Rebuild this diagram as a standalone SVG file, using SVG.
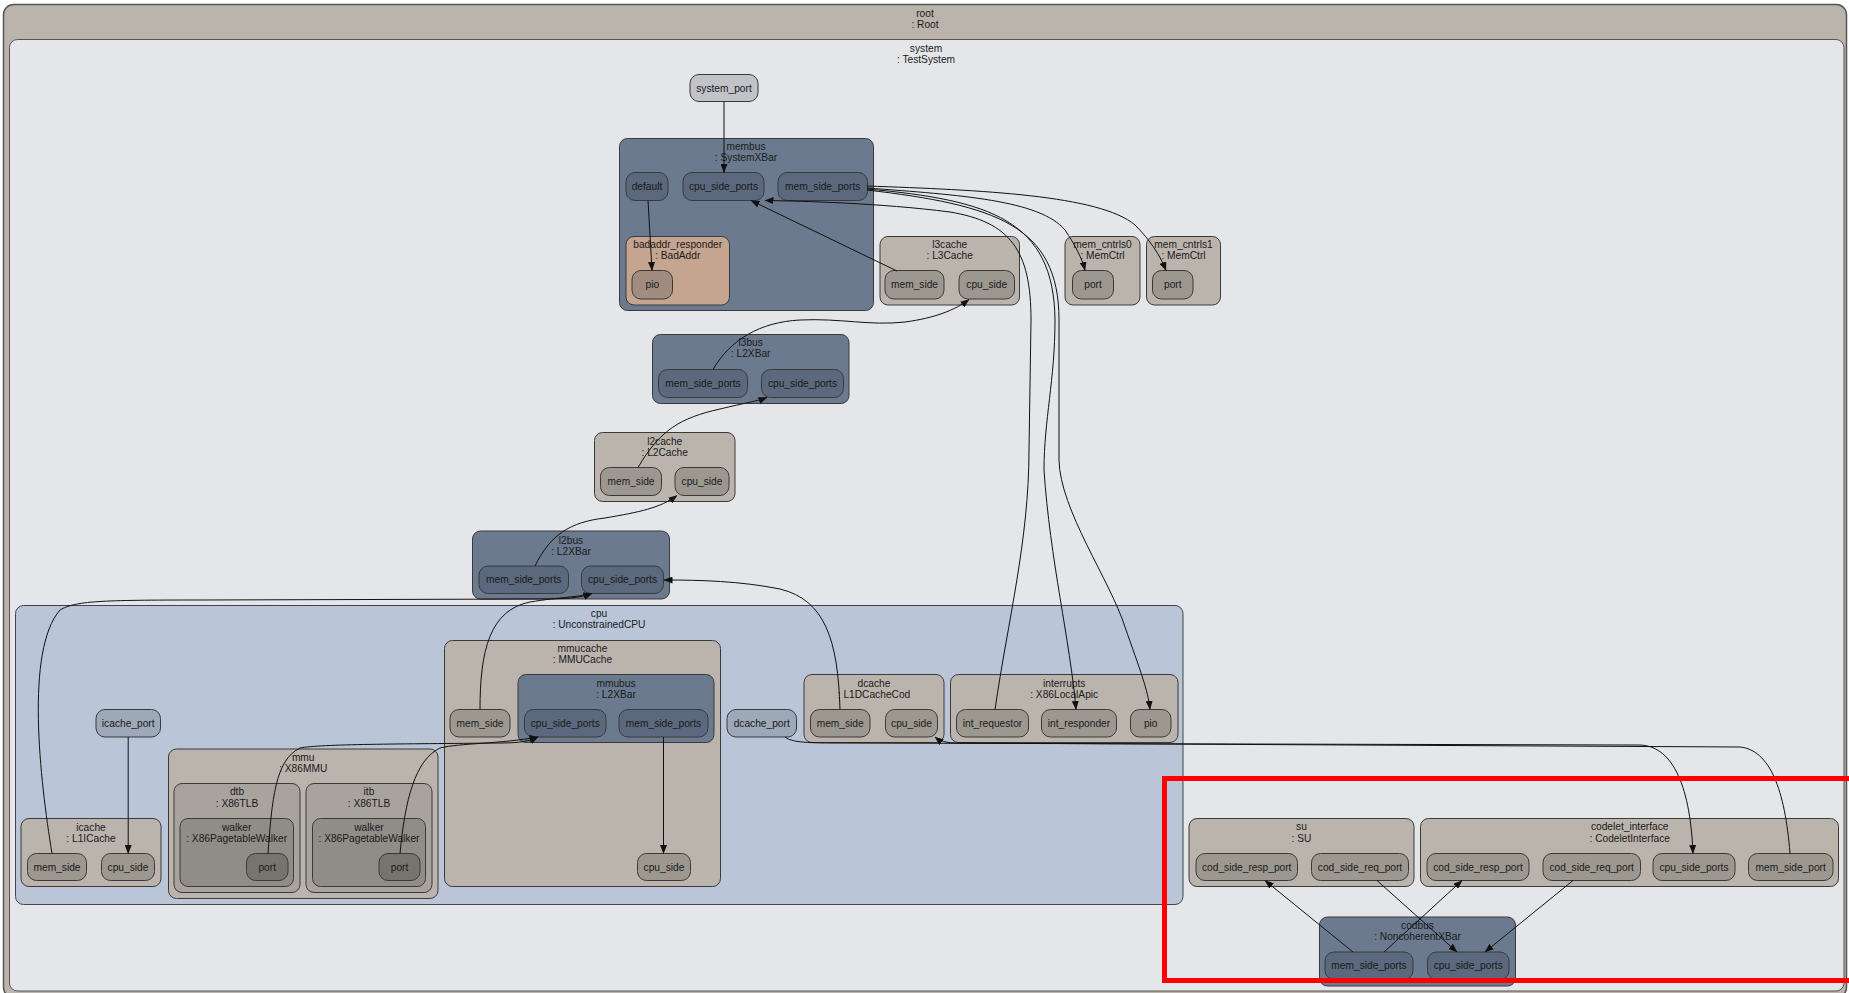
<svg xmlns="http://www.w3.org/2000/svg" width="1849" height="993" viewBox="0 0 1849 993">
<defs>
<style>
text{font-family:"Liberation Sans",Arial,sans-serif;font-size:10.2px;fill:#1a1a1a;text-anchor:middle}
rect{stroke:#3a3a3a;stroke-width:1}
.root{fill:#bab4ad;stroke:#555;stroke-width:1.5}
.sys{fill:#e5e6ea;stroke:#555}
.cpu{fill:#bac5d8;stroke:#444}
.bus{fill:#6c7a8f}
.busp{fill:#5b687d}
.cache{fill:#bab4ad}
.cport{fill:#9c9890}
.sport{fill:#c1c3c9}
.cpuport{fill:#9da8b8}
.bad{fill:#c6a590}
.badp{fill:#a08d80}
.tlb{fill:#a8a49d}
.walk{fill:#908d86}
.wport{fill:#77746f}
.e{fill:none;stroke:#111;stroke-width:1;marker-end:url(#arr)}
.red{fill:none;stroke:#f00;stroke-width:5}
</style>
<marker id="arr" markerUnits="userSpaceOnUse" markerWidth="9" markerHeight="7" refX="8.5" refY="3.5" orient="auto"><path d="M0,0 L9,3.5 L0,7 z" fill="#111"/></marker>
</defs>

<g id="root">
<rect class="root" x="3.5" y="4.5" width="1843" height="993" rx="10"/>
<text x="925" y="16.5">root</text><text x="925" y="27.5">: Root</text>
</g>
<g id="system">
<rect class="sys" x="9.5" y="39.5" width="1834.5" height="951.5" rx="8"/>
<text x="926" y="51.5">system</text><text x="926" y="62.5">: TestSystem</text>
</g>

<g id="system_port"><rect class="sport" x="690" y="74.5" width="68" height="27" rx="9"/><text x="724" y="91.6">system_port</text></g>

<g id="membus">
<rect class="bus" x="619.5" y="138.5" width="254" height="172" rx="8"/>
<text x="746" y="150.3">membus</text><text x="746" y="161.3">: SystemXBar</text>
<g id="membus_default"><rect class="busp" x="626" y="172.5" width="42" height="28" rx="9"/><text x="647" y="190.1">default</text></g>
<g id="membus_cpu_side_ports"><rect class="busp" x="683" y="172.5" width="81" height="28" rx="9"/><text x="723.5" y="190.1">cpu_side_ports</text></g>
<g id="membus_mem_side_ports"><rect class="busp" x="778" y="172.5" width="89.5" height="28" rx="9"/><text x="822.7" y="190.1">mem_side_ports</text></g>
<g id="badaddr_responder">
<rect class="bad" x="626" y="236.5" width="103.5" height="68.5" rx="8"/>
<text x="677.7" y="247.9">badaddr_responder</text><text x="677.7" y="258.6">: BadAddr</text>
<g id="badaddr_pio"><rect class="badp" x="632" y="270.5" width="40.5" height="28.5" rx="9"/><text x="652.3" y="288.3">pio</text></g>
</g>
</g>

<g id="l3cache">
<rect class="cache" x="880" y="236.5" width="139.5" height="68.5" rx="8"/>
<text x="949.7" y="247.9">l3cache</text><text x="949.7" y="258.6">: L3Cache</text>
<g id="l3cache_mem_side"><rect class="cport" x="885" y="270.5" width="59" height="28.5" rx="9"/><text x="914.5" y="288.3">mem_side</text></g>
<g id="l3cache_cpu_side"><rect class="cport" x="959" y="270.5" width="55.5" height="28.5" rx="9"/><text x="986.7" y="288.3">cpu_side</text></g>
</g>

<g id="mem_cntrls0">
<rect class="cache" x="1065" y="236.5" width="75" height="68.5" rx="8"/>
<text x="1102.5" y="247.9">mem_cntrls0</text><text x="1102.5" y="258.6">: MemCtrl</text>
<g id="mem_cntrls0_port"><rect class="cport" x="1072.5" y="270.5" width="41" height="28.5" rx="9"/><text x="1093" y="288.3">port</text></g>
</g>
<g id="mem_cntrls1">
<rect class="cache" x="1146.5" y="236.5" width="74" height="68.5" rx="8"/>
<text x="1183.5" y="247.9">mem_cntrls1</text><text x="1183.5" y="258.6">: MemCtrl</text>
<g id="mem_cntrls1_port"><rect class="cport" x="1152.5" y="270.5" width="40.5" height="28.5" rx="9"/><text x="1172.8" y="288.3">port</text></g>
</g>

<g id="l3bus">
<rect class="bus" x="652.5" y="334.5" width="196.5" height="69" rx="8"/>
<text x="750.7" y="346.3">l3bus</text><text x="750.7" y="357.3">: L2XBar</text>
<g id="l3bus_mem_side_ports"><rect class="busp" x="658.5" y="369.5" width="89" height="28" rx="9"/><text x="703" y="387.1">mem_side_ports</text></g>
<g id="l3bus_cpu_side_ports"><rect class="busp" x="761.5" y="369.5" width="82" height="28" rx="9"/><text x="802.5" y="387.1">cpu_side_ports</text></g>
</g>

<g id="l2cache">
<rect class="cache" x="594.5" y="432.5" width="140.5" height="69" rx="8"/>
<text x="664.7" y="444.6">l2cache</text><text x="664.7" y="455.9">: L2Cache</text>
<g id="l2cache_mem_side"><rect class="cport" x="600.5" y="467.5" width="61" height="28" rx="9"/><text x="631" y="485.1">mem_side</text></g>
<g id="l2cache_cpu_side"><rect class="cport" x="675" y="467.5" width="54" height="28" rx="9"/><text x="702" y="485.1">cpu_side</text></g>
</g>

<g id="l2bus">
<rect class="bus" x="472.5" y="531" width="197" height="68" rx="8"/>
<text x="571" y="543.6">l2bus</text><text x="571" y="554.6">: L2XBar</text>
<g id="l2bus_mem_side_ports"><rect class="busp" x="479" y="566" width="89.5" height="27.5" rx="9"/><text x="523.7" y="583.3">mem_side_ports</text></g>
<g id="l2bus_cpu_side_ports"><rect class="busp" x="581.5" y="566" width="82" height="27.5" rx="9"/><text x="622.5" y="583.3">cpu_side_ports</text></g>
</g>

<g id="cpu">
<rect class="cpu" x="15.5" y="605.5" width="1167.5" height="299" rx="8"/>
<text x="599" y="616.6">cpu</text><text x="599" y="628.1">: UnconstrainedCPU</text>
<g id="icache_port"><rect class="cpuport" x="96" y="709.5" width="64.5" height="27.5" rx="9"/><text x="128.2" y="726.8">icache_port</text></g>
<g id="icache">
<rect class="cache" x="21" y="818.5" width="140" height="68" rx="8"/>
<text x="91" y="830.6">icache</text><text x="91" y="841.6">: L1ICache</text>
<g id="icache_mem_side"><rect class="cport" x="27.5" y="853.5" width="59" height="27" rx="9"/><text x="57" y="870.6">mem_side</text></g>
<g id="icache_cpu_side"><rect class="cport" x="101.5" y="853.5" width="53" height="27" rx="9"/><text x="128" y="870.6">cpu_side</text></g>
</g>
<g id="mmu">
<rect class="cache" x="168.5" y="749" width="269.5" height="149.5" rx="8"/>
<text x="303.2" y="760.9">mmu</text><text x="303.2" y="771.9">: X86MMU</text>
<g id="dtb">
<rect class="tlb" x="174" y="783.5" width="126" height="109" rx="8"/>
<text x="237" y="795.3">dtb</text><text x="237" y="806.9">: X86TLB</text>
<g id="dtb_walker">
<rect class="walk" x="180" y="818.5" width="113.5" height="68" rx="8"/>
<text x="236.7" y="830.6">walker</text><text x="236.7" y="841.6">: X86PagetableWalker</text>
<g id="dtb_walker_port"><rect class="wport" x="246.5" y="853.5" width="41.5" height="27" rx="9"/><text x="267.2" y="870.6">port</text></g>
</g>
</g>
<g id="itb">
<rect class="tlb" x="306" y="783.5" width="126" height="109" rx="8"/>
<text x="369" y="795.3">itb</text><text x="369" y="806.9">: X86TLB</text>
<g id="itb_walker">
<rect class="walk" x="312.5" y="818.5" width="113" height="68" rx="8"/>
<text x="369" y="830.6">walker</text><text x="369" y="841.6">: X86PagetableWalker</text>
<g id="itb_walker_port"><rect class="wport" x="379" y="853.5" width="41" height="27" rx="9"/><text x="399.5" y="870.6">port</text></g>
</g>
</g>
</g>
<g id="mmucache">
<rect class="cache" x="444.5" y="640.5" width="276" height="246" rx="8"/>
<text x="582.5" y="651.9">mmucache</text><text x="582.5" y="663.3">: MMUCache</text>
<g id="mmucache_mem_side"><rect class="cport" x="450" y="709.5" width="60" height="27.5" rx="9"/><text x="480" y="726.8">mem_side</text></g>
<g id="mmubus">
<rect class="bus" x="518" y="674.5" width="196" height="68" rx="8"/>
<text x="616" y="686.9">mmubus</text><text x="616" y="697.9">: L2XBar</text>
<g id="mmubus_cpu_side_ports"><rect class="busp" x="524.5" y="709.5" width="81.5" height="27.5" rx="9"/><text x="565.2" y="726.8">cpu_side_ports</text></g>
<g id="mmubus_mem_side_ports"><rect class="busp" x="619" y="709.5" width="89" height="27.5" rx="9"/><text x="663.5" y="726.8">mem_side_ports</text></g>
</g>
<g id="mmucache_cpu_side"><rect class="cport" x="637.5" y="853.5" width="53" height="27" rx="9"/><text x="664" y="870.6">cpu_side</text></g>
</g>
<g id="dcache_port"><rect class="cpuport" x="727" y="709.5" width="69.5" height="27.5" rx="9"/><text x="761.7" y="726.8">dcache_port</text></g>
<g id="dcache">
<rect class="cache" x="804" y="674.5" width="140" height="68" rx="8"/>
<text x="874" y="686.6">dcache</text><text x="874" y="697.9">: L1DCacheCod</text>
<g id="dcache_mem_side"><rect class="cport" x="810.5" y="709.5" width="59.5" height="27.5" rx="9"/><text x="840.2" y="726.8">mem_side</text></g>
<g id="dcache_cpu_side"><rect class="cport" x="885.5" y="709.5" width="52" height="27.5" rx="9"/><text x="911.5" y="726.8">cpu_side</text></g>
</g>
<g id="interrupts">
<rect class="cache" x="950.5" y="674.5" width="227.5" height="68" rx="8"/>
<text x="1064.2" y="686.6">interrupts</text><text x="1064.2" y="697.9">: X86LocalApic</text>
<g id="int_requestor"><rect class="cport" x="956.5" y="709.5" width="72" height="27.5" rx="9"/><text x="992.5" y="726.8">int_requestor</text></g>
<g id="int_responder"><rect class="cport" x="1041.5" y="709.5" width="75" height="27.5" rx="9"/><text x="1079" y="726.8">int_responder</text></g>
<g id="interrupts_pio"><rect class="cport" x="1130.5" y="709.5" width="40.5" height="27.5" rx="9"/><text x="1150.7" y="726.8">pio</text></g>
</g>
</g>

<g id="su">
<rect class="cache" x="1189" y="818.5" width="225" height="68" rx="8"/>
<text x="1301.5" y="830.3">su</text><text x="1301.5" y="841.9">: SU</text>
<g id="su_cod_side_resp_port"><rect class="cport" x="1196" y="853.5" width="101.5" height="27" rx="9"/><text x="1246.7" y="870.6">cod_side_resp_port</text></g>
<g id="su_cod_side_req_port"><rect class="cport" x="1311.5" y="853.5" width="97" height="27" rx="9"/><text x="1360" y="870.6">cod_side_req_port</text></g>
</g>
<g id="codelet_interface">
<rect class="cache" x="1420.5" y="818.5" width="418" height="68" rx="8"/>
<text x="1629.7" y="830.3">codelet_interface</text><text x="1629.7" y="841.9">: CodeletInterface</text>
<g id="ci_cod_side_resp_port"><rect class="cport" x="1427" y="853.5" width="102" height="27" rx="9"/><text x="1478" y="870.6">cod_side_resp_port</text></g>
<g id="ci_cod_side_req_port"><rect class="cport" x="1543" y="853.5" width="97.5" height="27" rx="9"/><text x="1591.7" y="870.6">cod_side_req_port</text></g>
<g id="ci_cpu_side_ports"><rect class="cport" x="1653" y="853.5" width="82" height="27" rx="9"/><text x="1694" y="870.6">cpu_side_ports</text></g>
<g id="ci_mem_side_port"><rect class="cport" x="1748.5" y="853.5" width="84.5" height="27" rx="9"/><text x="1790.7" y="870.6">mem_side_port</text></g>
</g>
<g id="codbus">
<rect class="bus" x="1319.5" y="917" width="196" height="69" rx="8"/>
<text x="1417.5" y="928.6">codbus</text><text x="1417.5" y="939.6">: NoncoherentXBar</text>
<g id="codbus_mem_side_ports"><rect class="busp" x="1325" y="952" width="88" height="27.5" rx="9"/><text x="1369" y="969.3">mem_side_ports</text></g>
<g id="codbus_cpu_side_ports"><rect class="busp" x="1427.5" y="952" width="81.5" height="27.5" rx="9"/><text x="1468.2" y="969.3">cpu_side_ports</text></g>
</g>

<g id="connectors">
<path class="e" d="M724,101.5 L724,172.5"/>
<path class="e" d="M648,200.5 L652,270.5"/>
<path class="e" d="M897,271 L751,200.5"/>
<path class="e" d="M995,709.5 C1008,620 1029,540 1029,450 L1031,320 C1031,250 1010,222 950,212 C880,203 800,201 765,200.5"/>
<path class="e" d="M867,188 C960,195 1040,200 1065,230 C1075,245 1082,258 1085,270.5"/>
<path class="e" d="M867,186 C980,190 1100,195 1135,225 C1150,240 1160,255 1166,270.5"/>
<path class="e" d="M867,189 C990,200 1054,220 1055,320 C1055,380 1044,420 1044,470 C1050,560 1070,640 1076,709.5"/>
<path class="e" d="M867,190 C995,205 1059,225 1059,320 L1059,460 C1060,510 1110,580 1125,627 C1140,670 1148,690 1150,709.5"/>
<path class="e" d="M713,369.5 C730,340 760,322 800,320 C840,318 870,326 905,322 C935,318 955,310 969,299.5"/>
<path class="e" d="M638,467.5 C660,430 680,418 720,409 C745,403 758,401 767,397.5"/>
<path class="e" d="M535,566 C550,535 570,522 605,518 C640,512 660,508 677,495.5"/>
<path class="e" d="M840,709.5 C838,640 825,600 780,589 C740,581 700,580 664,580"/>
<path class="e" d="M52,853.5 C40,780 25,650 60,610 C75,601 100,600 200,600 L540,599 C565,599 580,598 592,593.5"/>
<path class="e" d="M480,709.5 C480,650 490,610 530,602 C560,597 580,597 592,593.5"/>
<path class="e" d="M128.2,737 L128.2,853.5"/>
<path class="e" d="M268,853.5 C272,800 275,760 300,748 C320,744 400,744 500,743 C520,743 530,741 538,737"/>
<path class="e" d="M400,853.5 C405,800 415,760 440,748 C460,743 500,744 538,737"/>
<path class="e" d="M663.5,737 L663.5,853.5"/>
<path class="e" d="M785,737 C790,741 800,743 830,743 L1640,745 C1670,746 1690,780 1693,853.5"/>
<path class="e" d="M1790,853.5 C1785,790 1770,750 1740,747 L960,743 C945,743 940,741 935,737"/>
<path class="e" d="M1353,952 L1265,880.5"/>
<path class="e" d="M1384,952 L1462,880.5"/>
<path class="e" d="M1377,880.5 L1457,952"/>
<path class="e" d="M1573,880.5 L1485,952"/>
</g>

<rect class="red" x="1164.5" y="778.5" width="700" height="202"/>
</svg>
